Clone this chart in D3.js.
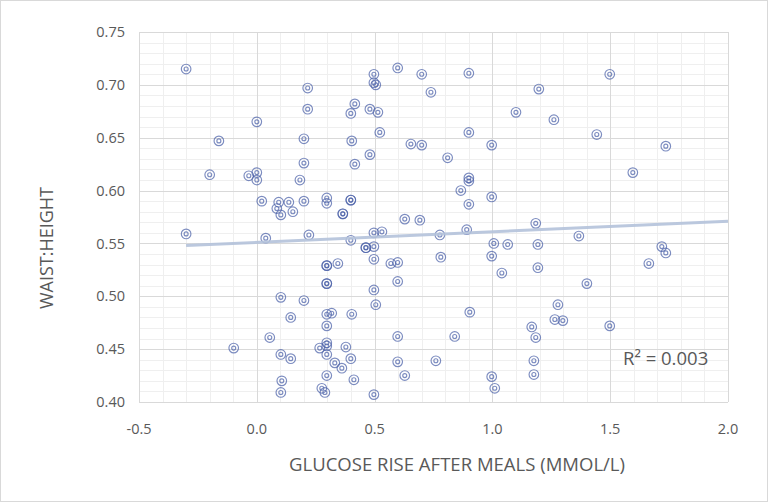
<!DOCTYPE html>
<html>
<head>
<meta charset="utf-8">
<script src="https://cdn.jsdelivr.net/npm/d3@7"></script>
<style>
  html, body { margin: 0; padding: 0; background: #fff; }
  svg { display: block; font-family: "Open Sans", "Liberation Sans", sans-serif; }
</style>
</head>
<body>
<svg id="chart" width="768" height="502"></svg>
<script>
// ---- data ----
const glucoseRise = [
  -0.30, 0.216, 0.216, 0.497, 0.497, 0.505, 0.598, 0.70, 0.90, 0.739,
  1.197, 0.416, 0.399, 0.48, 0.514, 0.522, 0.90, 1.10, 0.403, 0.654,
  0.70, 0.997, 0.48, 0.81, 0.416, 0.90, 0.90, 0.866, 0.997, 0.90,
  0.399, 0.399, 0.365, 0.365, 1.498, 1.261, 1.443, 1.736, 1.596, 0.0,
  -0.161, 0.20, 0.20, -0.20, -0.034, 0.0, 0.0, 0.183, 0.021, 0.093,
  0.085, 0.102, 0.136, 0.153, 0.20, 0.297, 0.297, -0.30, 0.038, 0.221,
  0.297, 0.297, 0.297, 0.297, 0.344, 0.102, 0.20, 0.144, 0.297, 0.318,
  0.297, 0.055, -0.098, 0.102, 0.144, 0.267, 0.297, 0.297, 0.297, 0.331,
  0.297, 0.106, 0.102, 0.276, 0.289, 0.628, 0.692, 1.184, 0.399, 0.497,
  0.531, 0.777, 0.891, 0.463, 0.463, 0.497, 1.006, 1.065, 1.193, 0.497,
  0.569, 0.598, 0.781, 0.997, 1.04, 1.193, 0.598, 0.497, 0.505, 0.403,
  0.904, 1.167, 1.184, 0.598, 0.840, 0.378, 0.361, 0.399, 0.598, 0.760,
  1.176, 1.176, 0.628, 0.412, 0.997, 1.01, 0.497, 1.367, 1.719, 1.736,
  1.664, 1.401, 1.278, 1.265, 1.299, 1.498
];
const waistHeight = [
  0.715, 0.697, 0.677, 0.710, 0.702, 0.700, 0.716, 0.710, 0.711, 0.693,
  0.696, 0.682, 0.673, 0.677, 0.674, 0.655, 0.655, 0.674, 0.647, 0.644,
  0.643, 0.643, 0.634, 0.631, 0.625, 0.612, 0.609, 0.600, 0.594, 0.587,
  0.591, 0.591, 0.578, 0.578, 0.710, 0.667, 0.653, 0.642, 0.617, 0.665,
  0.647, 0.649, 0.626, 0.615, 0.614, 0.617, 0.610, 0.610, 0.590, 0.589,
  0.583, 0.577, 0.589, 0.580, 0.590, 0.593, 0.588, 0.559, 0.555, 0.558,
  0.529, 0.529, 0.512, 0.512, 0.531, 0.499, 0.496, 0.480, 0.483, 0.484,
  0.472, 0.461, 0.451, 0.445, 0.441, 0.451, 0.456, 0.453, 0.445, 0.437,
  0.425, 0.420, 0.409, 0.413, 0.409, 0.573, 0.572, 0.569, 0.553, 0.560,
  0.561, 0.558, 0.563, 0.546, 0.546, 0.547, 0.550, 0.549, 0.549, 0.535,
  0.531, 0.532, 0.537, 0.538, 0.522, 0.527, 0.514, 0.506, 0.492, 0.483,
  0.485, 0.471, 0.461, 0.462, 0.462, 0.452, 0.432, 0.441, 0.438, 0.439,
  0.439, 0.426, 0.425, 0.421, 0.424, 0.413, 0.407, 0.557, 0.547, 0.541,
  0.531, 0.512, 0.492, 0.478, 0.477, 0.472
];
const xTickValues = [-0.5, 0.0, 0.5, 1.0, 1.5, 2.0];
const yTickValues = [0.40, 0.45, 0.50, 0.55, 0.60, 0.65, 0.70, 0.75];
const trendStartX = -0.3, trendEndX = 2.0;
const trendIntercept = 0.551, trendSlope = 0.01;
const rSquaredLabel = "R² = 0.003";
const xTitle = "GLUCOSE RISE AFTER MEALS (MMOL/L)";
const yTitle = "WAIST:HEIGHT";

// ---- layout ----
const svg = d3.select("#chart");
const W = 768, H = 502;
const plot = { left: 139, right: 728, top: 32, bottom: 402 };
const x = d3.scaleLinear().domain([-0.5, 2.0]).range([plot.left, plot.right]);
const y = d3.scaleLinear().domain([0.40, 0.75]).range([plot.bottom, plot.top]);
const textColor = "#595959";

// outer frame
svg.append("rect").attr("x", 0.5).attr("y", 0.5).attr("width", W - 1).attr("height", H - 1)
  .attr("fill", "#fff").attr("stroke", "#d9d9d9");

// minor grid
const minorX = d3.range(-5, 21).map(i => i / 10).filter(v => Math.abs(v * 2 - Math.round(v * 2)) > 1e-6);
const minorY = d3.range(40, 76).map(i => i / 100).filter(v => Math.abs(v * 20 - Math.round(v * 20)) > 1e-6);
const g = svg.append("g");
g.selectAll(".mx").data(minorX).enter().append("line")
  .attr("x1", d => Math.round(x(d)) + 0.5).attr("x2", d => Math.round(x(d)) + 0.5)
  .attr("y1", plot.top).attr("y2", plot.bottom).attr("stroke", "#efefef").attr("stroke-width", 1);
g.selectAll(".my").data(minorY).enter().append("line")
  .attr("y1", d => Math.round(y(d)) + 0.5).attr("y2", d => Math.round(y(d)) + 0.5)
  .attr("x1", plot.left).attr("x2", plot.right).attr("stroke", "#efefef").attr("stroke-width", 1);
// major grid
g.selectAll(".Mx").data(xTickValues).enter().append("line")
  .attr("x1", d => Math.round(x(d)) + 0.5).attr("x2", d => Math.round(x(d)) + 0.5)
  .attr("y1", plot.top).attr("y2", plot.bottom).attr("stroke", "#d9d9d9").attr("stroke-width", 1);
g.selectAll(".My").data(yTickValues).enter().append("line")
  .attr("y1", d => Math.round(y(d)) + 0.5).attr("y2", d => Math.round(y(d)) + 0.5)
  .attr("x1", plot.left).attr("x2", plot.right).attr("stroke", "#d9d9d9").attr("stroke-width", 1);

// tick labels
svg.append("g").selectAll("text").data(yTickValues).enter().append("text")
  .attr("x", 125).attr("y", d => y(d)).attr("dy", "0.35em")
  .attr("text-anchor", "end").attr("fill", textColor).attr("font-size", 14.5)
  .text(d => d.toFixed(2));
svg.append("g").selectAll("text").data(xTickValues).enter().append("text")
  .attr("x", d => x(d)).attr("y", 429).attr("dy", "0.35em")
  .attr("text-anchor", "middle").attr("fill", textColor).attr("font-size", 14.5)
  .text(d => d.toFixed(1));

// axis titles
svg.append("text").attr("x", 457).attr("y", 471)
  .attr("text-anchor", "middle").attr("fill", textColor).attr("font-size", 18)
  .attr("textLength", 336).attr("lengthAdjust", "spacingAndGlyphs")
  .text(xTitle);
svg.append("text").attr("transform", "translate(53,248) rotate(-90)")
  .attr("text-anchor", "middle").attr("fill", textColor).attr("font-size", 18)
  .attr("textLength", 122).attr("lengthAdjust", "spacingAndGlyphs")
  .text(yTitle);

// points
const pts = glucoseRise.map((v, i) => ({ gx: v, wh: waistHeight[i] }));
const markColor = "#4a5fa8";
const pg = svg.append("g");
const mk = pg.selectAll("g").data(pts).enter().append("g")
  .attr("transform", d => `translate(${x(d.gx)},${y(d.wh)})`);
mk.append("circle").attr("r", 4.8).attr("fill", "none")
  .attr("stroke", markColor).attr("stroke-opacity", 0.72).attr("stroke-width", 1.15);
mk.append("circle").attr("r", 2).attr("fill", "none")
  .attr("stroke", markColor).attr("stroke-opacity", 0.72).attr("stroke-width", 1.15);

// trendline
svg.append("line")
  .attr("x1", x(trendStartX)).attr("y1", y(trendIntercept + trendSlope * trendStartX))
  .attr("x2", x(trendEndX)).attr("y2", y(trendIntercept + trendSlope * trendEndX))
  .attr("stroke", "#b4c2da").attr("stroke-width", 3).attr("stroke-opacity", 0.9);

// R² label
svg.append("text").attr("x", 623).attr("y", 365)
  .attr("fill", textColor).attr("font-size", 18.5)
  .text(rSquaredLabel);
</script>
</body>
</html>
